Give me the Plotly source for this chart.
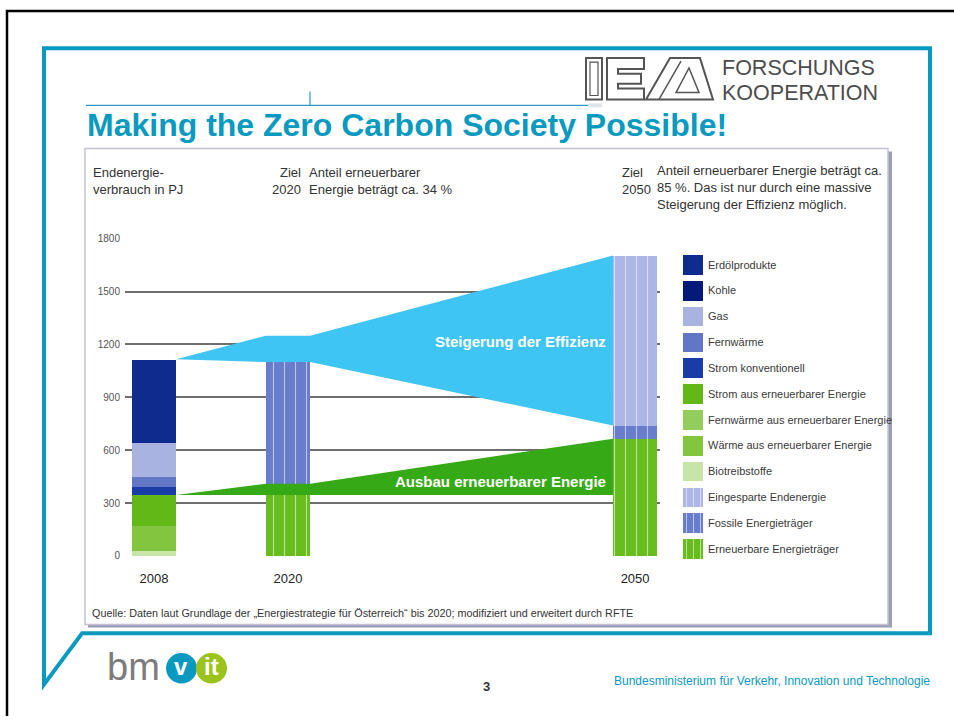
import plotly.graph_objects as go

W, H = 954, 720
FONT = "Arial, Liberation Sans, sans-serif"

# ---------------- data (PJ) ----------------
years = ["2008", "2020", "2050"]
y_ticks = [0, 300, 600, 900, 1200, 1500, 1800]

# 2008 detailed breakdown, stacked bottom -> top
renew_names = ["Biotreibstoffe", "Wärme aus erneuerbarer Energie",
               "Fernwärme aus erneuerbarer Energie", "Strom aus erneuerbarer Energie"]
renew_2008 = [30, 143, 0, 173]
fossil_names = ["Strom konventionell", "Fernwärme", "Gas", "Kohle", "Erdölprodukte"]
fossil_2008 = [44, 62, 191, 0, 473]

# aggregated bars for the target years
agg_years = ["2020", "2050"]
erneuerbare = [410, 665]
fossile = [690, 75]
eingespart = [150, 965]

legend_names = ["Erdölprodukte", "Kohle", "Gas", "Fernwärme", "Strom konventionell",
                "Strom aus erneuerbarer Energie", "Fernwärme aus erneuerbarer Energie",
                "Wärme aus erneuerbarer Energie", "Biotreibstoffe",
                "Eingesparte Endenergie", "Fossile Energieträger", "Erneuerbare Energieträger"]

band_labels = ["Steigerung der Effizienz", "Ausbau erneuerbarer Energie"]

# ---------------- styles ----------------
colors = {
    "Erdölprodukte": "#0d2c8e",
    "Kohle": "#041a78",
    "Gas": "#a9b3e1",
    "Fernwärme": "#6276c6",
    "Strom konventionell": "#1a3ca8",
    "Strom aus erneuerbarer Energie": "#62b816",
    "Fernwärme aus erneuerbarer Energie": "#93cd5e",
    "Wärme aus erneuerbarer Energie": "#82c53e",
    "Biotreibstoffe": "#c6e5a6",
    "Eingesparte Endenergie": "#adb6e6",
    "Fossile Energieträger": "#687dcb",
    "Erneuerbare Energieträger": "#68bd1e",
}
striped = {"Eingesparte Endenergie", "Fossile Energieträger", "Erneuerbare Energieträger"}
TEAL = "#0a9ac0"

# layout positions of bar centres on the x axis
pos = {"2008": 0.0, "2020": 1.0, "2050": 3.59}
BAR_W = 0.33


def px(x):
    return x / W


def py(y):
    return 1 - y / H


fig = go.Figure()

# ---- 2008 detailed stack ----
for n, v in zip(renew_names + fossil_names, renew_2008 + fossil_2008):
    fig.add_trace(go.Bar(x=[pos["2008"]], y=[v], width=BAR_W, name=n,
                         marker=dict(color=colors[n], line=dict(width=0)),
                         showlegend=False, hoverinfo="skip"))

# ---- aggregated striped stacks ----
agg_x = [pos[y] for y in agg_years]
for n, vals in [("Erneuerbare Energieträger", erneuerbare),
                ("Fossile Energieträger", fossile),
                ("Eingesparte Endenergie", eingespart)]:
    fig.add_trace(go.Bar(x=agg_x, y=vals, width=BAR_W, name=n,
                         marker=dict(color=colors[n], line=dict(width=0),
                                     pattern=dict(shape="|", fgcolor="white", fgopacity=0.55,
                                                  size=11, solidity=0.1)),
                         showlegend=False, hoverinfo="skip"))

# ---- bands between bars ----
e = BAR_W / 2
ren08 = sum(renew_2008)
tot08 = ren08 + sum(fossil_2008)
tot = [a + b + c for a, b, c in zip(erneuerbare, fossile, eingespart)]
ren_fos = [a + b for a, b in zip(erneuerbare, fossile)]
bx = [pos["2008"] + e, pos["2020"] - e, pos["2020"] + e, pos["2050"] - e]
bx_closed = bx + bx[::-1]

blue_upper = [tot08, tot[0], tot[0], tot[1]]
blue_lower = [tot08, ren_fos[0], ren_fos[0], ren_fos[1]]
fig.add_trace(go.Scatter(x=bx_closed, y=blue_upper + blue_lower[::-1], fill="toself",
                         fillcolor="#3fc5f4", mode="lines", line=dict(width=0),
                         showlegend=False, hoverinfo="skip"))

green_upper = [ren08, erneuerbare[0], erneuerbare[0], erneuerbare[1]]
green_lower = [ren08] * 4
fig.add_trace(go.Scatter(x=bx_closed, y=green_upper + green_lower[::-1], fill="toself",
                         fillcolor="#36a916", mode="lines", line=dict(width=0),
                         showlegend=False, hoverinfo="skip"))

# ---- custom legend as a small hidden subplot ----
for i, n in enumerate(legend_names):
    mk = dict(color=colors[n], line=dict(width=0))
    if n in striped:
        mk["pattern"] = dict(shape="|", fgcolor="white", fgopacity=0.55, size=7, solidity=0.14)
    fig.add_trace(go.Bar(x=[1], y=[i], base=0, orientation="h", width=0.76,
                         xaxis="x2", yaxis="y2", marker=mk, showlegend=False,
                         hoverinfo="skip"))

annotations = []


def txt(s, x, y, size, color, anchor="left", family=FONT, align="left"):
    annotations.append(dict(text=s, x=px(x), y=py(y), xref="paper", yref="paper",
                            xanchor=anchor, yanchor="middle", showarrow=False,
                            align=align, borderpad=0,
                            font=dict(size=size, color=color, family=family)))


for i, n in enumerate(legend_names):
    annotations.append(dict(text=n, x=px(706), y=i, xref="paper", yref="y2",
                            xanchor="left", yanchor="middle", showarrow=False,
                            font=dict(size=11, color="#3a3a3a", family=FONT)))

# slide title and texts
txt("<b>Making the Zero Carbon Society Possible!</b>", 86, 121, 32, TEAL)
txt("Endenergie-<br>verbrauch in PJ", 92, 178, 13, "#333")
txt("Ziel<br>2020", 271, 178, 13, "#333", align="right")
txt("Anteil erneuerbarer<br>Energie beträgt ca. 34 %", 308, 178, 13, "#333")
txt("Ziel<br>2050", 621, 178, 13, "#333")
txt("Anteil erneuerbarer Energie beträgt ca.<br>85 %. Das ist nur durch eine massive"
    "<br>Steigerung der Effizienz möglich.", 656, 185, 13, "#333")
txt("<b>" + band_labels[0] + "</b>", 607, 341, 15, "white", anchor="right")
txt("<b>" + band_labels[1] + "</b>", 607, 484, 15, "white", anchor="right")
txt("Quelle: Daten laut Grundlage der „Energiestrategie für Österreich“ bis 2020; "
    "modifiziert und erweitert durch RFTE", 91, 617, 10.8, "#333")
txt("FORSCHUNGS", 721, 63, 21.5, "#4d4d4d")
txt("KOOPERATION", 721, 88, 21.5, "#4d4d4d")
txt("bm", 106, 672, 38, "#7c7c7c")
txt("<b>v</b>", 181, 672, 24, "white", anchor="center")
txt("<b>it</b>", 211, 672, 24, "white", anchor="center")
txt("<b>3</b>", 487, 692, 13, "#333", anchor="center")
txt("Bundesministerium für Verkehr, Innovation und Technologie", 931, 686, 12, TEAL,
    anchor="right")

shapes = []


def rect(x0, y0, x1, y1, fill=None, line=None, lw=0, layer="below"):
    shapes.append(dict(type="rect", xref="paper", yref="paper", x0=px(x0), x1=px(x1),
                       y0=py(y1), y1=py(y0), fillcolor=fill or "rgba(0,0,0,0)",
                       line=dict(color=line or "rgba(0,0,0,0)", width=lw), layer=layer))


def path(points, color, lw, closed=False, fill=None, layer="below"):
    d = "M " + " L ".join(f"{px(x):.5f},{py(y):.5f}" for x, y in points)
    if closed:
        d += " Z"
    shapes.append(dict(type="path", xref="paper", yref="paper", path=d,
                       line=dict(color=color, width=lw),
                       fillcolor=fill or "rgba(0,0,0,0)", layer=layer))


def circle(x0, y0, x1, y1, fill):
    shapes.append(dict(type="circle", xref="paper", yref="paper", x0=px(x0), x1=px(x1),
                       y0=py(y1), y1=py(y0), fillcolor=fill, line=dict(width=0),
                       layer="below"))


# outer black border
path([(7, 722), (7, 5), (956, 5)], "black", 2.5)
# teal slide frame with diagonal corner
path([(82, 638), (44, 690), (44, 43), (930, 43), (930, 638)], TEAL, 4, closed=True)
# thin header rule
path([(86, 101), (588, 101)], "#2a9cc2", 1.2)
path([(310, 87), (310, 101)], "#2a9cc2", 1.2)
rect(588, 99, 602, 103, fill="#dfe4ea")
# chart picture box with shadow
rect(88, 148, 892, 632, fill="#9c9eb9")
rect(85, 145, 888, 629, fill="white", line="#c2c4d4", lw=1.5)

# IEA logo (outline letters)
G = "#555555"
rect(586, 53, 602, 95, line=G, lw=2)
rect(590, 57, 598, 91, line=G, lw=1.2)
path([(607, 53), (644, 53), (644, 64), (618, 64), (618, 69), (641, 69), (641, 79),
      (618, 79), (618, 84), (644, 84), (644, 95), (607, 95)], G, 2, closed=True)
path([(646, 95), (670, 53), (700, 53), (713, 95)], G, 2, closed=True)
path([(659, 95), (681, 56)], G, 1.5)
path([(676, 88), (689, 63), (699, 88)], G, 1.5, closed=True)

# bmvit logo circles
circle(166, 658, 197, 689, TEAL)
circle(196, 658, 227, 689, "#9cc21c")

fig.update_layout(
    width=W, height=H,
    margin=dict(l=0, r=0, t=0, b=0),
    paper_bgcolor="white", plot_bgcolor="rgba(0,0,0,0)",
    barmode="stack", bargap=0,
    showlegend=False,
    font=dict(family=FONT),
    xaxis=dict(domain=[px(125), px(660)], range=[-0.2164, 3.776],
               tickvals=[pos[y] for y in years], ticktext=years,
               showgrid=False, zeroline=False, showline=False, ticks="",
               tickfont=dict(size=13, color="#222"), ticklabelstandoff=13,
               fixedrange=True),
    yaxis=dict(domain=[py(559.3), py(236.7)], range=[0, 1800],
               tickvals=y_ticks, showgrid=True, gridcolor="#6e6e6e", gridwidth=2,
               zeroline=False, showline=False, ticks="",
               tickfont=dict(size=10, color="#555"), ticklabelstandoff=4,
               fixedrange=True),
    xaxis2=dict(domain=[px(683), px(703)], range=[0, 1], visible=False, anchor="y2",
                fixedrange=True),
    yaxis2=dict(domain=[py(565.1), py(249.9)], range=[11.5, -0.5], visible=False,
                anchor="x2", fixedrange=True),
    annotations=annotations,
    shapes=shapes,
)

fig.write_html("out.html", config={"displayModeBar": False},
               post_script="document.body.style.margin='0';document.body.style.overflow='hidden';")
